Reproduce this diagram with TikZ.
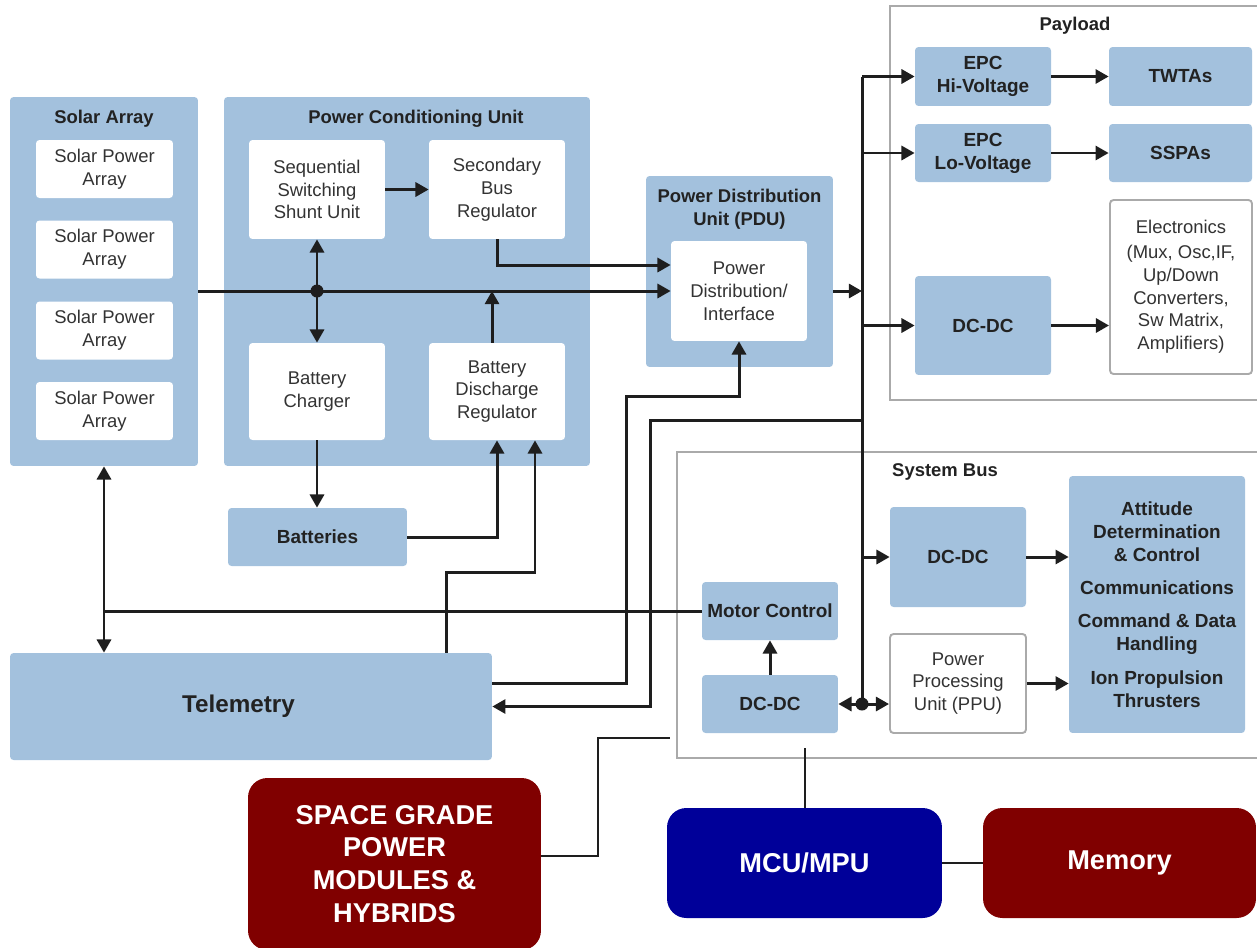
\documentclass[tikz,border=0pt]{standalone}
\usepackage{fontspec}
\setmainfont{Liberation Sans}
\usetikzlibrary{positioning,arrows.meta}
\definecolor{PanelBlue}{RGB}{163,193,221}
\definecolor{DarkRed}{RGB}{128,0,0}
\definecolor{McuBlue}{RGB}{0,0,153}
\definecolor{FrameGray}{RGB}{170,170,170}
\definecolor{LineBlack}{RGB}{30,30,30}
\definecolor{TextGray}{RGB}{51,51,51}
\definecolor{TitleBlack}{RGB}{34,34,34}

\begin{document}
\begin{tikzpicture}[
    x=0.02cm, y=-0.02cm,
    font=\fontsize{10.5}{13}\selectfont,
    panel/.style={rectangle,rounded corners=2pt,fill=PanelBlue,inner sep=0pt},
    card/.style={rectangle,rounded corners=2pt,fill=white,text=TextGray,align=center,minimum width=2.72cm,inner sep=0pt},
    block/.style={rectangle,rounded corners=2pt,fill=PanelBlue,text=TitleBlack,font=\fontsize{10.8}{13}\selectfont\bfseries,align=center,minimum width=2.72cm,inner sep=0pt},
    outlined/.style={rectangle,rounded corners=2pt,fill=white,draw=FrameGray,line width=1.1pt,text=TextGray,align=center,inner sep=0pt},
    frame/.style={draw=FrameGray,line width=1.1pt},
    heading/.style={font=\fontsize{10.5}{13}\selectfont\bfseries,text=TitleBlack,align=center},
    chip/.style={rectangle,rounded corners=11pt,text=white,font=\fontsize{15.5}{18.7}\selectfont\bfseries,align=center,inner sep=0pt},
    wire/.style={-{Triangle[length=7.5pt,width=8pt]},line width=1.7pt,draw=LineBlack},
    wires/.style={{Triangle[length=7.5pt,width=8pt]}-{Triangle[length=7.5pt,width=8pt]},line width=1.7pt,draw=LineBlack},
    link/.style={line width=1.7pt,draw=LineBlack},
    thinlink/.style={line width=0.9pt,draw=LineBlack},
    junction/.style={circle,fill=LineBlack,inner sep=0pt,minimum size=0.26cm}
]
\clip (0,0) rectangle (1257,947);

% Solar array
\node[panel,minimum width=3.76cm,minimum height=7.38cm] (solar) at (104,281.5) {};
\node[heading] (solarT) at (104,119) {Solar Array};
\foreach \i/\y in {1/169,2/249.5,3/330.5,4/411}
  \node[card,minimum width=2.74cm,minimum height=1.16cm] (sp\i) at (104.5,\y) {Solar Power\\Array};

% Power conditioning unit
\node[panel,minimum width=7.32cm,minimum height=7.38cm] (pcu) at (407,281.5) {};
\node[heading] (pcuT) at (416,119) {Power Conditioning Unit};
\node[card,minimum height=1.98cm] (sssu) at (317,189.5) {Sequential\\Switching\\Shunt Unit};
\node[card,minimum height=1.98cm] (sbr) at (497,189.5) {Secondary\\Bus\\Regulator};
\node[card,minimum height=1.94cm] (bc) at (317,391.5) {Battery\\Charger};
\node[card,minimum height=1.94cm] (bdr) at (497,391.5) {Battery\\Discharge\\Regulator};
\node[block,minimum width=3.58cm,minimum height=1.16cm] (batt) at (317.5,537) {Batteries};

% PDU
\node[panel,minimum width=3.74cm,minimum height=3.82cm] (pdu) at (739.5,271.5) {};
\node[heading] (pduT) at (739.5,209.5) {Power Distribution\\Unit (PDU)};
\node[card,minimum height=2.0cm] (pdi) at (739,291) {Power\\Distribution/\\Interface};

% Payload
\draw[frame] (890,6) rectangle (1270,400);
\node[heading] (payT) at (1075,26) {Payload};
\node[block,minimum height=1.18cm] (epchi) at (983,76.5) {EPC\\Hi-Voltage};
\node[block,minimum height=1.16cm] (epclo) at (983,153) {EPC\\Lo-Voltage};
\node[block,minimum width=2.86cm,minimum height=1.18cm] (twta) at (1180.5,76.5) {TWTAs};
\node[block,minimum width=2.86cm,minimum height=1.16cm] (sspa) at (1180.5,153) {SSPAs};
\node[block,minimum height=1.98cm] (dcp) at (983,325.5) {DC-DC};
\node[outlined,minimum width=2.84cm,minimum height=3.48cm] (elec) at (1181,287) {Electronics\\[1pt](Mux, Osc,IF,\\Up/Down\\Converters,\\Sw Matrix,\\Amplifiers)};

% System bus
\draw[frame] (677,452) rectangle (1270,758);
\node[heading] (busT) at (945,472) {System Bus};
\node[block,minimum height=1.16cm] (motor) at (770,611) {Motor Control};
\node[block,minimum height=1.16cm] (dcm) at (770,704) {DC-DC};
\node[block,minimum height=2.0cm] (dcs) at (958,557) {DC-DC};
\node[outlined,minimum width=2.72cm,minimum height=1.98cm] (ppu) at (958,683.5) {Power\\Processing\\Unit (PPU)};
\node[block,minimum width=3.52cm,minimum height=5.14cm] (adc) at (1157,604.5) {Attitude\\Determination\\\& Control\\[6pt]Communications\\[6pt]Command \& Data\\Handling\\[6pt]Ion Propulsion\\Thrusters};

% Telemetry
\node[panel,minimum width=9.64cm,minimum height=2.14cm,font=\fontsize{13.8}{16}\selectfont\bfseries,text=TitleBlack] (tele) at (251,706.5) {Telemetry\hspace*{0.5cm}};

% Devices
\node[chip,fill=DarkRed,minimum width=5.86cm,minimum height=3.44cm] (sgpm) at (394.5,864) {SPACE GRADE\\POWER\\MODULES \&\\HYBRIDS};
\node[chip,fill=McuBlue,minimum width=5.5cm,minimum height=2.2cm] (mcu) at (804.5,863) {MCU/MPU};
\node[chip,fill=DarkRed,minimum width=5.46cm,minimum height=2.2cm] (mem) at (1119.5,863) {Memory};

% Power bus
\coordinate (j1) at (sssu.south |- pdi);
\coordinate (bdrIn) at ([xshift=0.76cm]bdr.south);
\draw[wire] (solar.east |- pdi) -- (pdi.west);
\draw[wires] (sssu.south) -- (bc.north);
\node[junction] at (j1) {};
\draw[wire] (sssu) -- (sbr);
\draw[wire] (sbr.south) |- ([yshift=0.52cm]pdi.west);
\draw[wire] ([xshift=-0.1cm]bdr.north) -- ([xshift=-0.1cm]bdr.north |- pdi);
\draw[wire] (bc.south) -- (bc.south |- batt.north);
\draw[wire] (batt.east) -| (bdr.south);
\draw[wire] ([xshift=3.92cm]tele.north) -- ++(0,-80) -| (bdrIn);

% Telemetry links
\draw[wires] (solar.south) -- (solar.south |- tele.north);
\draw[link] (motor.west) -- (motor.west -| solar.south);
\draw[wire] ([yshift=0.47cm]tele.east) -| (626,396) -| (pdi.south);

% Distribution bus
\coordinate (btop) at (862,76.5);
\coordinate (bbot) at (862,704);
\draw[link] (btop) -- (bbot);
\draw[wire] (btop |- 0,420) -- (650,420) |- (tele.east);
\draw[wire] (pdu.east |- pdi) -- (btop |- pdi);
\draw[wire] (btop) -- (epchi.west);
\draw[wire] (btop |- epclo) -- (epclo.west);
\draw[wire] (btop |- dcp) -- (dcp.west);
\draw[wire] (epchi) -- (twta);
\draw[wire] (epclo) -- (sspa);
\draw[wire] (dcp.east) -- (dcp.east -| elec.west);
\draw[wire] (btop |- dcs) -- (dcs.west);
\draw[wire] (bbot) -- (dcm.east);
\draw[wire] (bbot) -- (bbot -| ppu.west);
\node[junction] at (bbot) {};
\draw[wire] (dcm) -- (motor);
\draw[wire] (dcs.east) -- (dcs.east -| adc.west);
\draw[wire] (ppu.east) -- (ppu.east -| adc.west);

% Device links
\coordinate (sgEnd) at (670,738);
\coordinate (mcuEnd) at (805,748);
\draw[thinlink] (sgpm.east |- 0,856) -| (598,738) -- (sgEnd);
\draw[thinlink] (mcu.north -| mcuEnd) -- (mcuEnd);
\draw[thinlink] (mcu) -- (mem);
\end{tikzpicture}
\end{document}
